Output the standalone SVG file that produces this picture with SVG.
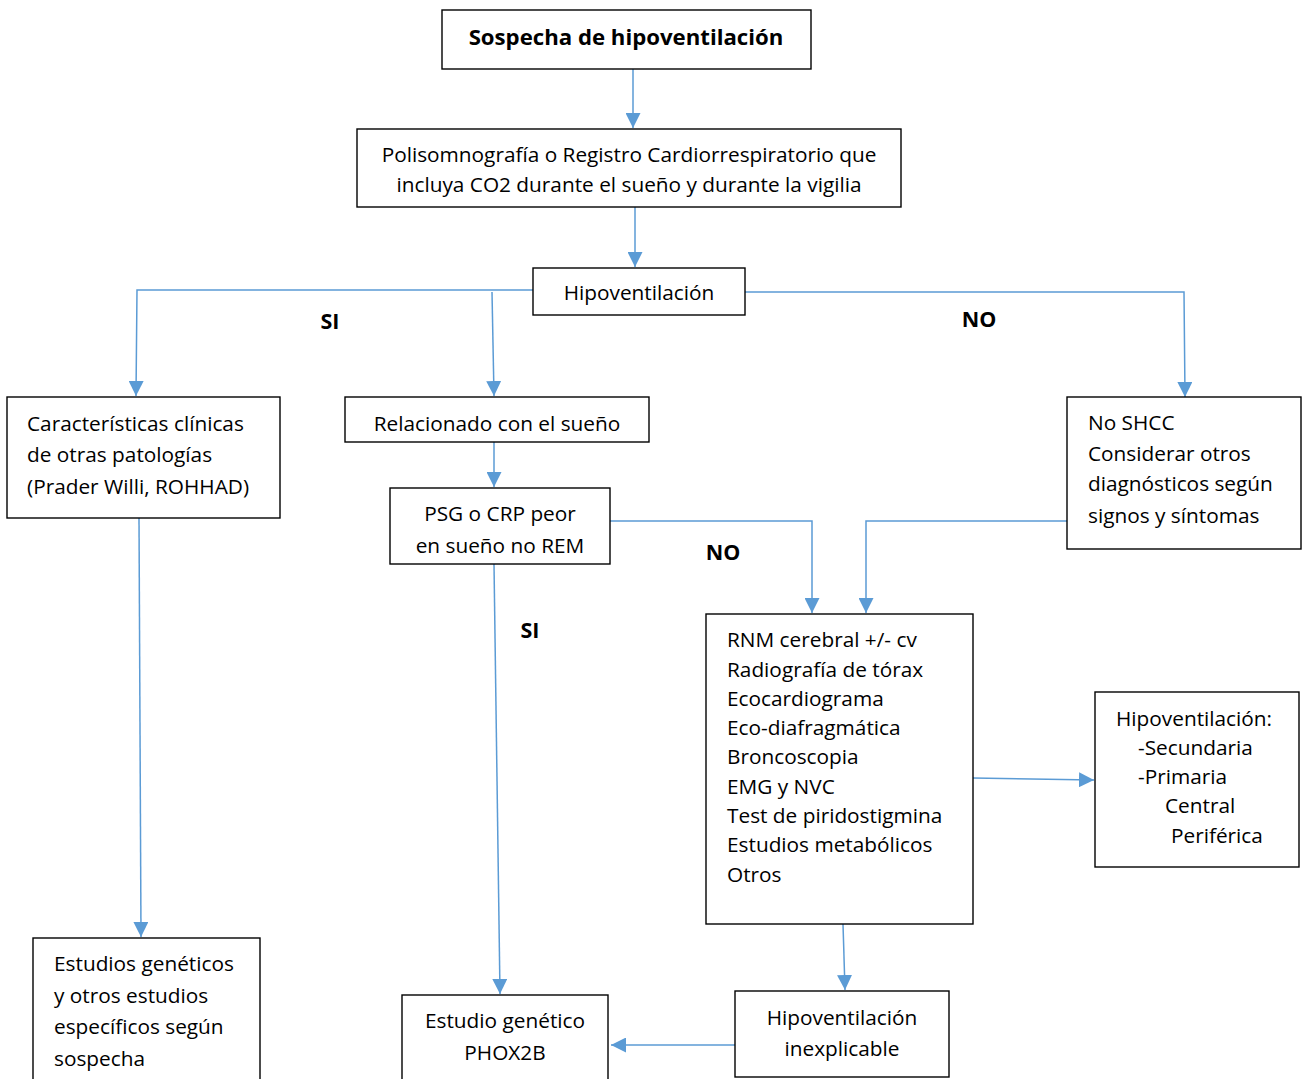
<svg xmlns="http://www.w3.org/2000/svg" width="1302" height="1079" viewBox="0 0 1302 1079">
<defs>
<marker id="ah" markerWidth="15" markerHeight="15" refX="15" refY="7.5" orient="auto" markerUnits="userSpaceOnUse">
<path d="M0,0 L15,7.5 L0,15 Z" fill="#5B9BD5"/>
</marker>
<style>
.box{fill:#fff;stroke:#000;stroke-width:1.4}
.t{font-family:"Open Sans","Liberation Sans",Arial,sans-serif;font-size:20.8px;fill:#000}
.c{text-anchor:middle}
.b{font-weight:bold}
.ln{fill:none;stroke:#5B9BD5;stroke-width:1.5}
</style>
</defs>
<rect width="1302" height="1079" fill="#fff"/>
<g id="connectors">
<path class="ln" d="M633,69 L633,128" marker-end="url(#ah)"/>
<path class="ln" d="M635,207 L635,267" marker-end="url(#ah)"/>
<path class="ln" d="M533,290 L137,290 L136,396" marker-end="url(#ah)"/>
<path class="ln" d="M492,292 L494,396" marker-end="url(#ah)"/>
<path class="ln" d="M745,292 L1184,292 L1185,397" marker-end="url(#ah)"/>
<path class="ln" d="M494,442 L494,487" marker-end="url(#ah)"/>
<path class="ln" d="M610,521 L812,521 L812,613" marker-end="url(#ah)"/>
<path class="ln" d="M1067,521 L866,521 L866,613" marker-end="url(#ah)"/>
<path class="ln" d="M139,518 L141,937" marker-end="url(#ah)"/>
<path class="ln" d="M494,564 L500,994" marker-end="url(#ah)"/>
<path class="ln" d="M973,778 L1094,780" marker-end="url(#ah)"/>
<path class="ln" d="M843,924 L845,990" marker-end="url(#ah)"/>
<path class="ln" d="M735,1045 L611,1045" marker-end="url(#ah)"/>
</g>
<g id="labels">
<text class="t b c" x="330" y="329" style="font-size:21.5px">SI</text>
<text class="t b c" x="979" y="327" style="font-size:21.5px">NO</text>
<text class="t b c" x="723" y="560" style="font-size:21.5px">NO</text>
<text class="t b c" x="530" y="638" style="font-size:21.5px">SI</text>
</g>
<g id="n1">
<rect class="box" x="442" y="10" width="369" height="59"/>
<text class="t b c" x="626" y="45" style="font-size:22.2px">Sospecha de hipoventilación</text>
</g>
<g id="n2">
<rect class="box" x="357" y="129" width="544" height="78"/>
<text class="t c" x="629" y="162">Polisomnografía o Registro Cardiorrespiratorio que</text>
<text class="t c" x="629" y="192">incluya CO2 durante el sueño y durante la vigilia</text>
</g>
<g id="n3">
<rect class="box" x="533" y="268" width="212" height="47"/>
<text class="t c" x="639" y="300">Hipoventilación</text>
</g>
<g id="n4">
<rect class="box" x="7" y="397" width="273" height="121"/>
<text class="t" x="27" y="431">Características clínicas</text>
<text class="t" x="27" y="462">de otras patologías</text>
<text class="t" x="27" y="494">(Prader Willi, ROHHAD)</text>
</g>
<g id="n5">
<rect class="box" x="345" y="397" width="304" height="45"/>
<text class="t c" x="497" y="431">Relacionado con el sueño</text>
</g>
<g id="n6">
<rect class="box" x="390" y="488" width="220" height="76"/>
<text class="t c" x="500" y="521">PSG o CRP peor</text>
<text class="t c" x="500" y="553">en sueño no REM</text>
</g>
<g id="n7">
<rect class="box" x="1067" y="397" width="234" height="152"/>
<text class="t" x="1088" y="430">No SHCC</text>
<text class="t" x="1088" y="461">Considerar otros</text>
<text class="t" x="1088" y="491">diagnósticos según</text>
<text class="t" x="1088" y="523">signos y síntomas</text>
</g>
<g id="n8">
<rect class="box" x="706" y="614" width="267" height="310"/>
<text class="t" x="727" y="647">RNM cerebral +/- cv</text>
<text class="t" x="727" y="677">Radiografía de tórax</text>
<text class="t" x="727" y="706">Ecocardiograma</text>
<text class="t" x="727" y="735">Eco-diafragmática</text>
<text class="t" x="727" y="764">Broncoscopia</text>
<text class="t" x="727" y="794">EMG y NVC</text>
<text class="t" x="727" y="823">Test de piridostigmina</text>
<text class="t" x="727" y="852">Estudios metabólicos</text>
<text class="t" x="727" y="882">Otros</text>
</g>
<g id="n9">
<rect class="box" x="1095" y="692" width="204" height="175"/>
<text class="t" x="1116" y="726">Hipoventilación:</text>
<text class="t" x="1138" y="755">-Secundaria</text>
<text class="t" x="1138" y="784">-Primaria</text>
<text class="t" x="1165" y="813">Central</text>
<text class="t" x="1171" y="843">Periférica</text>
</g>
<g id="n10">
<rect class="box" x="33" y="938" width="227" height="160"/>
<text class="t" x="54" y="971">Estudios genéticos</text>
<text class="t" x="54" y="1003">y otros estudios</text>
<text class="t" x="54" y="1034">específicos según</text>
<text class="t" x="54" y="1066">sospecha</text>
</g>
<g id="n11">
<rect class="box" x="402" y="995" width="206" height="100"/>
<text class="t c" x="505" y="1028">Estudio genético</text>
<text class="t c" x="505" y="1060">PHOX2B</text>
</g>
<g id="n12">
<rect class="box" x="735" y="991" width="214" height="86"/>
<text class="t c" x="842" y="1025">Hipoventilación</text>
<text class="t c" x="842" y="1056">inexplicable</text>
</g>
</svg>
